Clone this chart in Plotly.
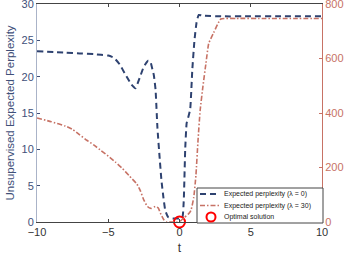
import plotly.graph_objects as go

# Expected perplexity (lambda = 0), left axis
t_blue = [-10, -8, -7, -6, -5, -4.6, -4.2, -3.8, -3.4, -3.1, -2.8, -2.5, -2.2, -2.05, -1.9, -1.8, -1.68, -1.55, -1.4, -1.27, -1.13, -1.0, -0.8, -0.5, 0.0, 0.2, 0.3, 0.4, 0.5, 0.6, 0.75, 0.9, 1.05, 1.2, 1.35, 1.6, 3, 5, 7, 10]
v_blue = [23.5, 23.3, 23.2, 23.1, 22.9, 22.6, 21.7, 20.3, 19.0, 18.4, 19.8, 21.4, 22.2, 22.1, 21.0, 20.2, 18.2, 13.0, 9.0, 5.8, 3.4, 1.6, 0.7, 0.5, 0.5, 0.6, 3.0, 10.0, 13.6, 14.3, 15.5, 21.0, 25.0, 27.5, 28.5, 28.4, 28.3, 28.3, 28.3, 28.3]

# Expected perplexity (lambda = 30), right axis
t_red = [-10, -9, -8, -7.5, -7, -6.5, -6, -5.5, -5, -4.5, -4, -3.5, -3.0, -2.75, -2.5, -2.25, -2.0, -1.7, -1.5, -1.3, -1.1, -0.95, -0.5, -0.2, 0.1, 0.3, 0.6, 0.8, 1.0, 1.15, 1.3, 1.45, 1.65, 1.85, 2.05, 2.4, 2.9, 4, 6, 8, 10]
v_red = [382, 368, 352, 340, 320, 300, 282, 262, 242, 220, 196, 168, 140, 115, 80, 57, 50, 57, 52, 28, 8, 0, 0, 0, 5, 15, 28, 42, 90, 170, 300, 410, 500, 580, 655, 695, 745, 747, 747, 747, 747]

# Optimal solution
t_opt = [0]
v_opt = [0]

names = ["Expected perplexity (λ = 0)", "Expected perplexity (λ = 30)", "Optimal solution"]
x_ticks = [-10, -5, 0, 5, 10]
left_ticks = [0, 5, 10, 15, 20, 25, 30]
right_ticks = [0, 200, 400, 600, 800]

BLUE = "#2e4270"
RED = "#c77265"
AXBLUE = "#3f5079"
FONT = "Liberation Sans, Arial, sans-serif"
BLUE_DASH = "6px,4px"
RED_DASH = "5px,2px,1.5px,2px"

W, H = 349, 260
L, R, T, B = 37, 27, 4, 38
PW, PH = W - L - R, H - T - B


def px(x):
    return (x - L) / PW


def py(y):
    return (H - B - y) / PH


fig = go.Figure()
fig.add_trace(go.Scatter(x=t_blue, y=v_blue, mode="lines", name=names[0],
                         line=dict(color=BLUE, width=2, dash=BLUE_DASH, shape="spline", smoothing=0.4)))
fig.add_trace(go.Scatter(x=t_red, y=v_red, mode="lines", name=names[1], yaxis="y2",
                         line=dict(color=RED, width=1.6, dash=RED_DASH, shape="spline", smoothing=0.4)))
fig.add_trace(go.Scatter(x=t_opt, y=v_opt, mode="markers", name=names[2], cliponaxis=False,
                         marker=dict(symbol="circle-open", size=11, color="#ff0000", line=dict(width=2, color="#ff0000"))))

# manual compact legend (box, samples, labels)
shapes = [dict(type="rect", xref="paper", yref="paper", x0=px(197), x1=px(323), y0=py(223), y1=py(188),
               line=dict(color="#444444", width=1), fillcolor="white", layer="above")]
rows_y = [194, 205.5, 217]
shapes.append(dict(type="line", xref="paper", yref="paper", x0=px(200), x1=px(219), y0=py(rows_y[0]), y1=py(rows_y[0]),
                   line=dict(color=BLUE, width=2, dash=BLUE_DASH), layer="above"))
shapes.append(dict(type="line", xref="paper", yref="paper", x0=px(200), x1=px(219), y0=py(rows_y[1]), y1=py(rows_y[1]),
                   line=dict(color=RED, width=1.6, dash=RED_DASH), layer="above"))
shapes.append(dict(type="circle", xref="paper", yref="paper", x0=px(206.5), x1=px(215.5), y0=py(rows_y[2] + 4.5), y1=py(rows_y[2] - 4.5),
                   line=dict(color="#ff0000", width=2), layer="above"))
annotations = [dict(xref="paper", yref="paper", x=px(222), y=py(ry), text=nm, showarrow=False,
                    xanchor="left", yanchor="middle", font=dict(size=7, color="#222222", family=FONT))
               for ry, nm in zip(rows_y, names)]

fig.update_layout(
    width=W, height=H,
    margin=dict(l=L, r=R, t=T, b=B, autoexpand=False),
    paper_bgcolor="white", plot_bgcolor="white",
    font=dict(family=FONT, size=11, color="#333333"),
    showlegend=False,
    shapes=shapes, annotations=annotations,
    xaxis=dict(range=[-10, 10], tickvals=x_ticks, ticks="inside", ticklen=3, automargin=False,
               showline=True, linecolor="#444444", linewidth=1, mirror="ticks",
               showgrid=False, zeroline=False, ticklabeloverflow="allow",
               tickfont=dict(size=11, color="#333333"),
               title=dict(text="t", font=dict(size=12, color="#333333"), standoff=6)),
    yaxis=dict(range=[0, 30], tickvals=left_ticks, ticks="inside", ticklen=3, automargin=False,
               showline=True, linecolor="#aab3c8", linewidth=1,
               showgrid=False, zeroline=False, ticklabeloverflow="allow",
               tickfont=dict(size=11, color=AXBLUE), tickcolor=AXBLUE,
               title=dict(text="Unsupervised Expected Perplexity", font=dict(size=11.5, color=AXBLUE), standoff=4)),
    yaxis2=dict(range=[0, 800], tickvals=right_ticks, ticks="inside", ticklen=3, automargin=False,
                overlaying="y", side="right", ticklabeloverflow="allow",
                showline=True, linecolor=RED, linewidth=1,
                showgrid=False, zeroline=False,
                tickfont=dict(size=11, color=RED), tickcolor=RED),
)

fig.write_html("out.html", config={"displayModeBar": False},
               post_script="document.body.style.margin='0';document.body.style.padding='0';document.body.style.overflow='hidden';")
